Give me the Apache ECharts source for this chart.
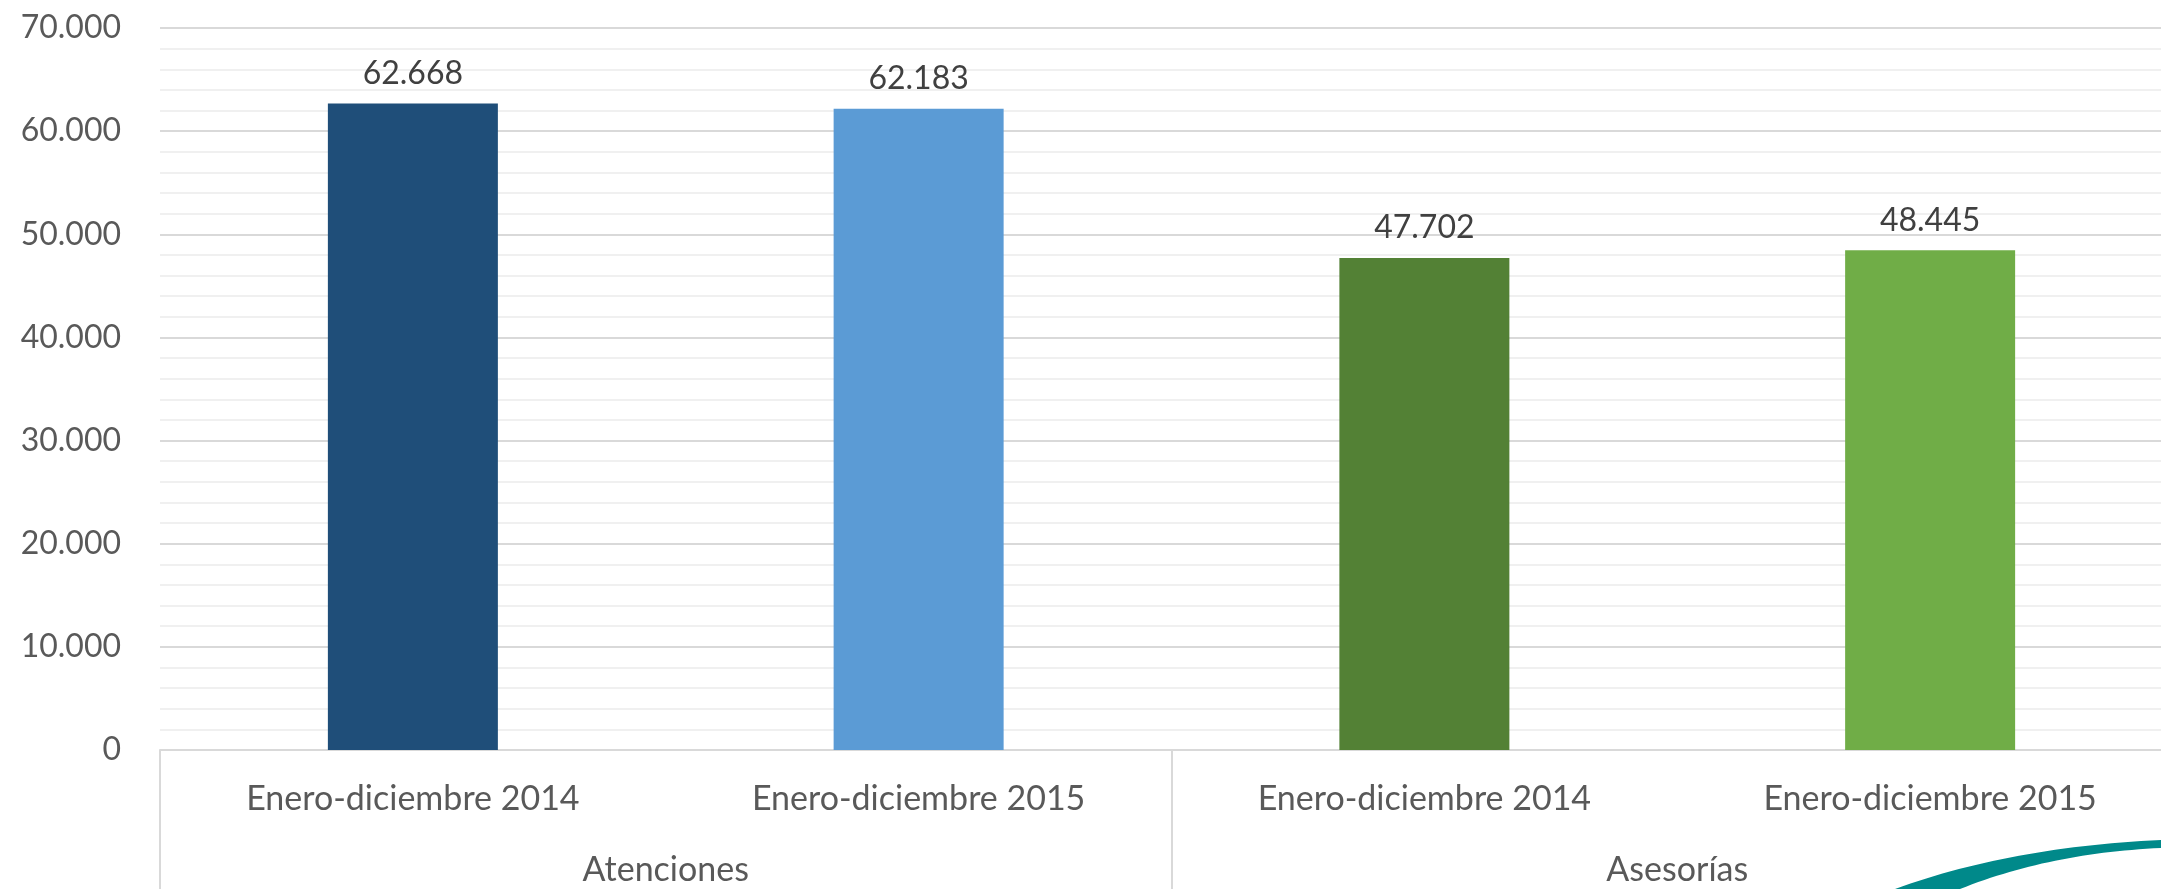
<!DOCTYPE html>
<html>
<head>
<meta charset="utf-8">
<script src="https://cdn.jsdelivr.net/npm/echarts@6/dist/echarts.min.js"></script>
<style>
html,body{margin:0;padding:0;background:#fff;overflow:hidden;}
#chart{width:2200px;height:889px;}
</style>
</head>
<body>
<div id="chart"></div>
<script>
const categories = ['Enero-diciembre 2014', 'Enero-diciembre 2015', 'Enero-diciembre 2014', 'Enero-diciembre 2015'];
const groups = ['Atenciones', 'Asesorías'];
const values = [62668, 62183, 47702, 48445];
const barColors = ['#1F4E79', '#5B9BD5', '#538135', '#70AD47'];
const yTicks = [0, 10000, 20000, 30000, 40000, 50000, 60000, 70000];

function fmt(v) {
  if (v === 0) return '0';
  return String(v).replace(/\B(?=(\d{3})+(?!\d))/g, '.');
}

// decorative swoosh outline (quadratic curves)
function quad(p0, p1, p2, n) {
  const pts = [];
  for (let i = 0; i <= n; i++) {
    const t = i / n, u = 1 - t;
    pts.push([u*u*p0[0] + 2*u*t*p1[0] + t*t*p2[0], u*u*p0[1] + 2*u*t*p1[1] + t*t*p2[1]]);
  }
  return pts;
}
const swoosh = quad([1895, 889], [2010, 847], [2161, 840], 30)
  .concat([[2200, 839], [2200, 847]])
  .concat(quad([2161, 848], [2050, 853], [1960, 889], 30));

const FONT = 'Lato';
const chart = echarts.init(document.getElementById('chart'));
chart.setOption({
  animation: false,
  backgroundColor: '#ffffff',
  grid: { left: 160, top: 28, right: 17, bottom: 139, containLabel: false },
  xAxis: [
    {
      type: 'category',
      data: categories,
      position: 'bottom',
      axisLine: { show: true, lineStyle: { color: '#d9d9d9', width: 2 } },
      axisTick: { show: false },
      axisLabel: { interval: 0, margin: 32, fontFamily: FONT, fontSize: 34, color: '#595959' }
    },
    {
      type: 'category',
      data: groups,
      position: 'bottom',
      axisLine: { show: false },
      axisTick: { show: true, interval: 0, length: 145, lineStyle: { color: '#d9d9d9', width: 2 } },
      axisLabel: { interval: 0, margin: 103, fontFamily: FONT, fontSize: 34, color: '#595959' }
    }
  ],
  yAxis: {
    type: 'value',
    min: yTicks[0],
    max: yTicks[yTicks.length - 1],
    interval: 10000,
    axisLine: { show: false },
    axisTick: { show: false },
    axisLabel: { margin: 39, fontFamily: FONT, fontSize: 32, color: '#595959', formatter: fmt },
    splitLine: { show: true, lineStyle: { color: '#d9d9d9', width: 2 } },
    minorTick: { show: false, splitNumber: 5 },
    minorSplitLine: { show: true, lineStyle: { color: '#f0f0f0', width: 2 } }
  },
  series: [{
    type: 'bar',
    xAxisIndex: 0,
    barWidth: 170,
    data: values.map((v, i) => ({ value: v, itemStyle: { color: barColors[i] } })),
    label: {
      show: true,
      position: 'top',
      distance: 14,
      fontFamily: FONT,
      fontSize: 32,
      color: '#404040',
      formatter: p => fmt(p.value)
    }
  }],
  graphic: [{
    type: 'polygon',
    z: 100,
    shape: { points: swoosh },
    style: { fill: '#00898A' }
  }]
});
</script>
</body>
</html>
